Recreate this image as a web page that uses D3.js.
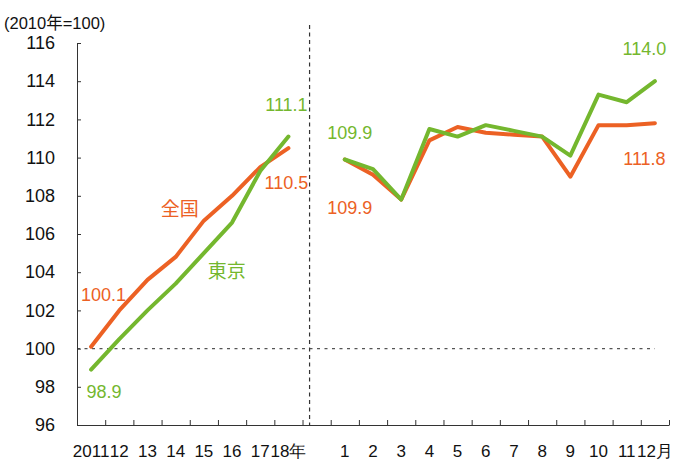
<!DOCTYPE html>
<html>
<head>
<meta charset="utf-8">
<script src="https://cdn.jsdelivr.net/npm/d3@7"></script>
<style>
  body { margin: 0; background: #fff; }
  svg { display: block; font-family: "Liberation Sans", Arial, "Noto Sans CJK JP", sans-serif; }
</style>
</head>
<body>
<svg id="chart"></svg>
<script>
var width = 676;
var height = 464;

// categories
var yearLabels = ["2011", "12", "13", "14", "15", "16", "17", "18年"];
var monthLabels = ["1", "2", "3", "4", "5", "6", "7", "8", "9", "10", "11", "12月"];

// series (2010年=100)
var zenkokuYear = [100.1, 102.0, 103.6, 104.8, 106.7, 108.0, 109.5, 110.5];
var tokyoYear = [98.9, 100.5, 102.0, 103.4, 105.0, 106.6, 109.3, 111.1];
var zenkokuMonth = [109.9, 109.1, 107.8, 110.9, 111.6, 111.3, 111.2, 111.1, 109.0, 111.7, 111.7, 111.8];
var tokyoMonth = [109.9, 109.4, 107.8, 111.5, 111.1, 111.7, 111.4, 111.1, 110.1, 113.3, 112.9, 114.0];

var yTicks = [96, 98, 100, 102, 104, 106, 108, 110, 112, 114, 116];

var orange = "#ec6124";
var green = "#74b72e";

var margin = { left: 77, right: 7, top: 43, bottom: 39 };

// one band for each category, plus an empty slot between years and months
var cats = [];
yearLabels.forEach(function (d, i) { cats.push("y" + i); });
cats.push("gap");
monthLabels.forEach(function (d, i) { cats.push("m" + i); });

var catText = {};
yearLabels.forEach(function (d, i) { catText["y" + i] = d; });
monthLabels.forEach(function (d, i) { catText["m" + i] = d; });
catText["gap"] = "";

var x = d3.scaleBand()
  .domain(cats)
  .range([margin.left, width - margin.right])
  .padding(0);

var y = d3.scaleLinear()
  .domain([96, 116])
  .range([height - margin.bottom, margin.top]);

var svg = d3.select("#chart")
  .attr("width", width)
  .attr("height", height);

function cx(key) { return x(key) + x.bandwidth() / 2; }

// reference line at 100
svg.append("line")
  .attr("x1", margin.left)
  .attr("x2", cx("m11"))
  .attr("y1", y(100))
  .attr("y2", y(100))
  .attr("stroke", "#555")
  .attr("stroke-width", 1.3)
  .attr("stroke-dasharray", "3,4.5");

// divider between annual and monthly data
var divX = x("gap") + x.bandwidth() * 0.25;
svg.append("line")
  .attr("x1", divX)
  .attr("x2", divX)
  .attr("y1", 25)
  .attr("y2", y(96))
  .attr("stroke", "#333")
  .attr("stroke-width", 1.2)
  .attr("stroke-dasharray", "4,3.5");

// y axis
var yAxis = svg.append("g")
  .attr("transform", "translate(" + margin.left + ",0)")
  .call(d3.axisLeft(y).tickValues(yTicks).tickSizeInner(-4).tickSizeOuter(0).tickPadding(22));
yAxis.selectAll("text")
  .attr("font-size", 18)
  .attr("fill", "#111");
yAxis.selectAll("line, path").attr("stroke", "#333");

// x axis: ticks on category boundaries
var bounds = d3.range(1, cats.length + 1);
var xb = d3.scaleLinear()
  .domain([0, cats.length])
  .range([margin.left, width - margin.right]);
var xTickAxis = svg.append("g")
  .attr("transform", "translate(0," + y(96) + ")")
  .call(d3.axisBottom(xb).tickValues(bounds).tickSizeInner(-5).tickSizeOuter(0).tickFormat(""));
xTickAxis.selectAll("line, path").attr("stroke", "#333");

var xLabelAxis = svg.append("g")
  .attr("transform", "translate(0," + y(96) + ")")
  .call(d3.axisBottom(x).tickSize(0).tickPadding(20).tickFormat(function (d) { return catText[d]; }));
xLabelAxis.select(".domain").remove();
xLabelAxis.selectAll("text")
  .attr("font-size", 17)
  .attr("fill", "#111");

// unit label
svg.append("text")
  .attr("x", 4)
  .attr("y", 29)
  .attr("font-size", 16.5)
  .attr("fill", "#111")
  .text("(2010年=100)");

// lines
var line = d3.line()
  .x(function (d) { return cx(d.k); })
  .y(function (d) { return y(d.v); });

function pts(vals, prefix) {
  return vals.map(function (v, i) { return { k: prefix + i, v: v }; });
}

var series = [
  { data: pts(zenkokuYear, "y"), color: orange },
  { data: pts(zenkokuMonth, "m"), color: orange },
  { data: pts(tokyoYear, "y"), color: green },
  { data: pts(tokyoMonth, "m"), color: green }
];

svg.selectAll(".series")
  .data(series)
  .enter().append("path")
  .attr("class", "series")
  .attr("d", function (d) { return line(d.data); })
  .attr("fill", "none")
  .attr("stroke", function (d) { return d.color; })
  .attr("stroke-width", 4)
  .attr("stroke-linejoin", "round")
  .attr("stroke-linecap", "round");

// value labels
var labels = [
  { k: "y7", v: tokyoYear[7], dx: -2, dy: -32, c: green, t: tokyoYear[7].toFixed(1) },
  { k: "y7", v: zenkokuYear[7], dx: -2, dy: 34.5, c: orange, t: zenkokuYear[7].toFixed(1) },
  { k: "y0", v: zenkokuYear[0], dx: 12.5, dy: -52, c: orange, t: zenkokuYear[0].toFixed(1) },
  { k: "y0", v: tokyoYear[0], dx: 13, dy: 22, c: green, t: tokyoYear[0].toFixed(1) },
  { k: "m0", v: tokyoMonth[0], dx: 5, dy: -27, c: green, t: tokyoMonth[0].toFixed(1) },
  { k: "m0", v: zenkokuMonth[0], dx: 5, dy: 48, c: orange, t: zenkokuMonth[0].toFixed(1) },
  { k: "m11", v: tokyoMonth[11], dx: -10.5, dy: -33, c: green, t: tokyoMonth[11].toFixed(1) },
  { k: "m11", v: zenkokuMonth[11], dx: -10.5, dy: 35, c: orange, t: zenkokuMonth[11].toFixed(1) }
];

svg.selectAll(".vlabel")
  .data(labels)
  .enter().append("text")
  .attr("class", "vlabel")
  .attr("x", function (d) { return cx(d.k) + d.dx; })
  .attr("y", function (d) { return y(d.v) + d.dy; })
  .attr("dy", "0.35em")
  .attr("text-anchor", "middle")
  .attr("font-size", 18)
  .attr("fill", function (d) { return d.c; })
  .text(function (d) { return d.t; });

// series names
var names = [
  { k: "y3", v: zenkokuYear[3], dx: 4, dy: -48, c: orange, t: "全国" },
  { k: "y4", v: tokyoYear[4], dx: 23, dy: 18, c: green, t: "東京" }
];

svg.selectAll(".sname")
  .data(names)
  .enter().append("text")
  .attr("class", "sname")
  .attr("x", function (d) { return cx(d.k) + d.dx; })
  .attr("y", function (d) { return y(d.v) + d.dy; })
  .attr("dy", "0.35em")
  .attr("text-anchor", "middle")
  .attr("font-size", 19)
  .attr("font-family", "'Noto Sans CJK JP', sans-serif")
  .attr("fill", function (d) { return d.c; })
  .text(function (d) { return d.t; });
</script>
</body>
</html>
